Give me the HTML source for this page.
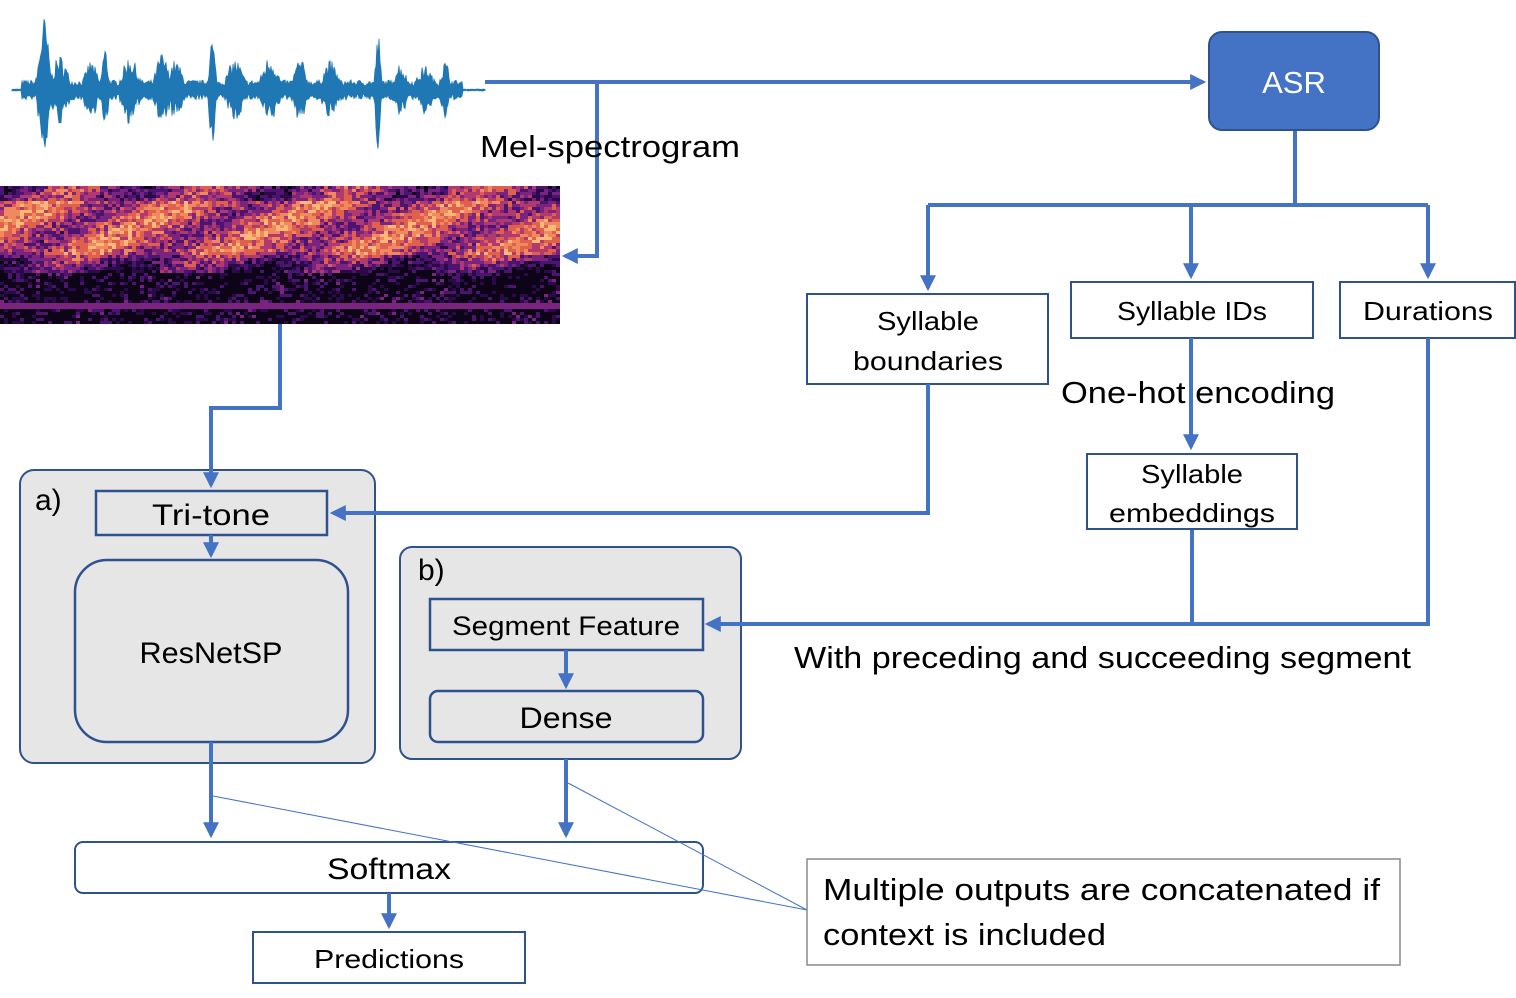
<!DOCTYPE html>
<html><head><meta charset="utf-8"><style>
html,body{margin:0;padding:0;background:#fff;}
svg{display:block;}
text{font-family:"Liberation Sans",sans-serif;fill:#000;}
</style></head><body>
<svg id="s" width="1516" height="998" viewBox="0 0 1516 998" xmlns="http://www.w3.org/2000/svg">
<defs>
<marker id="ah" markerWidth="4" markerHeight="4" refX="3.2" refY="2" orient="auto" markerUnits="strokeWidth"><path d="M0,0 L4,2 L0,4 Z" fill="#4472C4"/></marker>
<linearGradient id="sg" x1="0" y1="0" x2="0" y2="1">
<stop offset="0" stop-color="#5a1a6a"/><stop offset="0.15" stop-color="#c8485e"/><stop offset="0.35" stop-color="#d05a60"/><stop offset="0.55" stop-color="#7a2a78"/><stop offset="0.7" stop-color="#2a0a44"/><stop offset="1" stop-color="#140624"/>
</linearGradient>
</defs>
<g id="wave"></g>
<g id="spec"><rect x="0" y="186" width="558" height="138" fill="url(#sg)"/></g>

<g stroke="#4472C4" stroke-width="4" fill="none">
<polyline points="485,82 1203,82" marker-end="url(#ah)"/>
<polyline points="597,82 597,256 565,256" marker-end="url(#ah)"/>
<polyline points="1295,130 1295,205"/>
<polyline points="928,205 1428,205"/>
<polyline points="928,205 928,288" marker-end="url(#ah)"/>
<polyline points="1191,205 1191,276" marker-end="url(#ah)"/>
<polyline points="1428,205 1428,276" marker-end="url(#ah)"/>
<polyline points="1192,529 1192,624"/>
</g>

<rect x="1209" y="32" width="170" height="98" rx="13" fill="#4472C4" stroke="#2F528F" stroke-width="2"/>
<text x="1294" y="93" font-size="31" text-anchor="middle" style="fill:#fff">ASR</text>
<text x="480" y="157" font-size="31" textLength="260" lengthAdjust="spacingAndGlyphs">Mel-spectrogram</text>

<rect x="807" y="294" width="241" height="90" fill="#fff" stroke="#2F528F" stroke-width="2"/>
<text x="928" y="330" font-size="26" text-anchor="middle" textLength="102" lengthAdjust="spacingAndGlyphs">Syllable</text>
<text x="928" y="370" font-size="26" text-anchor="middle" textLength="150" lengthAdjust="spacingAndGlyphs">boundaries</text>
<rect x="1071" y="282" width="242" height="56" fill="#fff" stroke="#2F528F" stroke-width="2"/>
<text x="1192" y="320" font-size="26" text-anchor="middle" textLength="150" lengthAdjust="spacingAndGlyphs">Syllable IDs</text>
<rect x="1340" y="282" width="175" height="56" fill="#fff" stroke="#2F528F" stroke-width="2"/>
<text x="1428" y="320" font-size="26" text-anchor="middle" textLength="130" lengthAdjust="spacingAndGlyphs">Durations</text>

<text x="1061" y="403" font-size="31" textLength="274" lengthAdjust="spacingAndGlyphs">One-hot encoding</text>
<line x1="1191" y1="338" x2="1191" y2="447" stroke="#4472C4" stroke-width="4" marker-end="url(#ah)"/>

<rect x="1087" y="454" width="210" height="75" fill="#fff" stroke="#2F528F" stroke-width="2"/>
<text x="1192" y="483" font-size="26" text-anchor="middle" textLength="102" lengthAdjust="spacingAndGlyphs">Syllable</text>
<text x="1192" y="522" font-size="26" text-anchor="middle" textLength="166" lengthAdjust="spacingAndGlyphs">embeddings</text>

<text x="794" y="668" font-size="31" textLength="617" lengthAdjust="spacingAndGlyphs">With preceding and succeeding segment</text>

<rect x="20" y="470" width="355" height="293" rx="14" fill="#e6e6e6" stroke="#2F528F" stroke-width="2"/>
<text x="35" y="510" font-size="30">a)</text>
<rect x="96" y="491" width="231" height="44" fill="#e6e6e6" stroke="#2F528F" stroke-width="2.5"/>
<text x="211" y="525" font-size="30" text-anchor="middle" textLength="118" lengthAdjust="spacingAndGlyphs">Tri-tone</text>
<line x1="211" y1="535" x2="211" y2="555" stroke="#4472C4" stroke-width="4" marker-end="url(#ah)"/>
<rect x="75" y="560" width="273" height="182" rx="32" fill="#e6e6e6" stroke="#2F528F" stroke-width="2.5"/>
<text x="211" y="663" font-size="30" text-anchor="middle" textLength="143" lengthAdjust="spacingAndGlyphs">ResNetSP</text>

<rect x="400" y="547" width="341" height="212" rx="12" fill="#e6e6e6" stroke="#2F528F" stroke-width="2"/>
<text x="418" y="580" font-size="30">b)</text>
<rect x="430" y="599" width="273" height="51" fill="#e6e6e6" stroke="#2F528F" stroke-width="2.5"/>
<text x="566" y="635" font-size="27" text-anchor="middle" textLength="228" lengthAdjust="spacingAndGlyphs">Segment Feature</text>
<line x1="566" y1="650" x2="566" y2="686" stroke="#4472C4" stroke-width="4" marker-end="url(#ah)"/>
<rect x="430" y="691" width="273" height="51" rx="8" fill="#e6e6e6" stroke="#2F528F" stroke-width="2.5"/>
<text x="566" y="728" font-size="30" text-anchor="middle" textLength="93" lengthAdjust="spacingAndGlyphs">Dense</text>

<g stroke="#4472C4" stroke-width="4" fill="none">
<polyline points="280,324 280,408 211,408 211,485" marker-end="url(#ah)"/>
<polyline points="928,384 928,513 333,513" marker-end="url(#ah)"/>
<polyline points="1428,338 1428,624 708,624" marker-end="url(#ah)"/>
<line x1="211" y1="742" x2="211" y2="835" marker-end="url(#ah)"/>
<line x1="566" y1="759" x2="566" y2="835" marker-end="url(#ah)"/>
</g>
<rect x="75" y="842" width="628" height="51" rx="8" fill="#fff" stroke="#2F528F" stroke-width="2"/>
<text x="389" y="879" font-size="30" text-anchor="middle" textLength="124" lengthAdjust="spacingAndGlyphs">Softmax</text>
<line x1="389" y1="893" x2="389" y2="926" stroke="#4472C4" stroke-width="4" marker-end="url(#ah)"/>
<rect x="253" y="932" width="272" height="51" fill="#fff" stroke="#2F528F" stroke-width="2"/>
<text x="389" y="968" font-size="26" text-anchor="middle" textLength="150" lengthAdjust="spacingAndGlyphs">Predictions</text>

<g stroke="#4472C4" stroke-width="1">
<line x1="213" y1="796" x2="807" y2="910"/>
<line x1="568" y1="783" x2="807" y2="910"/>
</g>
<rect x="807" y="859" width="593" height="106" fill="#fff" stroke="#888" stroke-width="1.5"/>
<text x="823" y="900" font-size="31" textLength="557" lengthAdjust="spacingAndGlyphs">Multiple outputs are concatenated if</text>
<text x="823" y="945" font-size="31" textLength="283" lengthAdjust="spacingAndGlyphs">context is included</text>
</svg>
<script>
(function(){
var NS="http://www.w3.org/2000/svg";
var seed=7;function r(){seed=(seed*16807)%2147483647;return seed/2147483647;}
var peaks=[[44,75,6],[60,35,10],[91,30,8],[105,45,4],[130,35,10],[162,38,8],[175,30,10],[212,55,4],[235,32,10],[270,35,10],[300,32,8],[330,30,10],[378,60,3],[400,28,8],[425,25,10],[445,30,6]];
function env(x){var e=10;for(var i=0;i<peaks.length;i++){var d=(x-peaks[i][0])/peaks[i][2];e=Math.max(e,peaks[i][1]*Math.exp(-d*d));}
 if(x<22||x>462)e=1;return e;}
var pts=[];
for(var x=12;x<=485;x+=1){var e=env(x);var a=e*(0.4+0.6*r());var b=e*(0.4+0.6*r());pts.push([x,a,b]);}
var d="M12,90";pts.forEach(function(p){d+=" L"+p[0]+","+(90-p[1]).toFixed(1);});
for(var i=pts.length-1;i>=0;i--){d+=" L"+pts[i][0]+","+(90+pts[i][2]).toFixed(1);}
d+=" Z";
var p=document.createElementNS(NS,"path");p.setAttribute("d",d);p.setAttribute("fill","#1f77b4");p.setAttribute("stroke","#1f77b4");p.setAttribute("stroke-width","0.8");
document.getElementById("wave").appendChild(p);
var g=document.getElementById("spec");
var cols=["#0d0418","#2a0a48","#4a1470","#7a2480","#b03a70","#e0604e","#f08a5e","#fbb878"];
for(var y=186;y<324;y+=3){for(var x=0;x<558;x+=4){
 var t=(y-186)/138;var base;
 if(t<0.1)base=0.45;else if(t<0.5)base=0.62;else if(t<0.62)base=0.45-(t-0.5)*2;else base=0.18;
 var v=base+(r()-0.5)*0.4+0.18*Math.sin(x/22+y/11)*(t<0.62?1:0.3);
 if(t>=0.62&&r()<0.5)v=0;
 var k=Math.max(0,Math.min(7,Math.floor(v*8)));
 if((t>0.83&&t<0.87))k=Math.max(k,3);
 var rc=document.createElementNS(NS,"rect");rc.setAttribute("x",x);rc.setAttribute("y",y);rc.setAttribute("width",4);rc.setAttribute("height",3);rc.setAttribute("fill",cols[k]);g.appendChild(rc);}}
})();
</script>
</body></html>
